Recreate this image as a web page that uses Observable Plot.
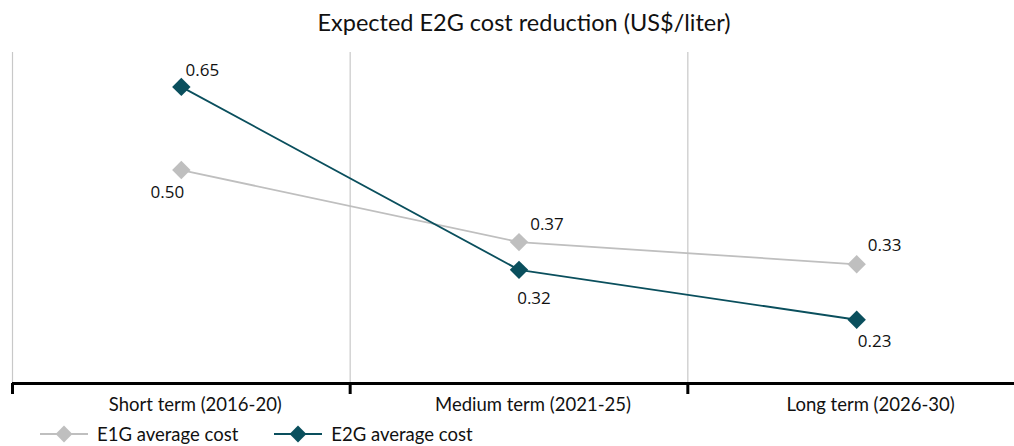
<!DOCTYPE html>
<html>
<head>
<meta charset="utf-8">
<script src="https://cdn.jsdelivr.net/npm/d3@7"></script>
<script src="https://cdn.jsdelivr.net/npm/@observablehq/plot@0.6"></script>
<style>
  html, body { margin: 0; padding: 0; background: #fff; }
  #wrap { position: relative; width: 1014px; height: 446px; overflow: hidden; font-family: Lato, "Open Sans", sans-serif; }
  #title { position: absolute; top: 0; left: 0; width: 1014px; height: 44px; line-height: 44px; text-align: center; font-size: 23.5px; color: #111; padding-left: 34px; box-sizing: border-box; }
  #chart { position: absolute; top: 45px; left: 0; }
  #legend { position: absolute; top: 423px; left: 40px; height: 22px; display: flex; align-items: center; font-size: 18.5px; color: #111; }
  .item { display: flex; align-items: center; }
  .item svg { margin-right: 9px; }
</style>
</head>
<body>
<div id="wrap">
  <div id="title">Expected E2G cost reduction (US$/liter)</div>
  <div id="chart"></div>
  <div id="legend"></div>
</div>
<script>
// ---- data ----
const categories = ["Short term (2016-20)", "Medium term (2021-25)", "Long term (2026-30)"];
const seriesNames = ["E1G average cost", "E2G average cost"];
const e1gValues = [0.50, 0.37, 0.33];
const e2gValues = [0.65, 0.32, 0.23];

// ---- styles ----
const colors = ["#bfbfbf", "#0a4f5d"];
const yDomain = [0.115, 0.712];
const boundaries = [-0.5, 0.5, 1.5];

const rows = [];
[e1gValues, e2gValues].forEach((vals, s) => {
  vals.forEach((v, i) => rows.push({i, category: categories[i], series: seriesNames[s], value: v}));
});

function label(s, i, dx, dy) {
  return Plot.text(rows.filter(d => d.series === seriesNames[s] && d.i === i), {
    x: "i", y: "value", text: d => d.value.toFixed(2), dx, dy,
    fontSize: 17, fill: "#111", fontFamily: "'Open Sans', sans-serif", lineAnchor: "middle"
  });
}

const chart = Plot.plot({
  width: 1014,
  height: 375,
  marginTop: 7,
  marginBottom: 37,
  marginLeft: 12,
  marginRight: 0,
  style: {fontFamily: "Lato, sans-serif", background: "transparent"},
  x: {type: "linear", domain: [-0.5, 2.5], range: [12, 1025], axis: null, label: null},
  y: {domain: yDomain, axis: null, label: null},
  color: {domain: seriesNames, range: colors},
  marks: [
    Plot.ruleX(boundaries, {stroke: "#c8c8c8", strokeWidth: 1.2}),
    Plot.ruleY([yDomain[0]], {stroke: "#000", strokeWidth: 3}),
    Plot.axisX(boundaries, {tickSize: 11, strokeWidth: 3, stroke: "#000", tickFormat: () => "", tickPadding: 0, label: null}),
    Plot.text(categories, {x: (d, i) => i, text: d => d, frameAnchor: "bottom", dy: 22, dx: 14, lineAnchor: "middle", fontSize: 18.5, fill: "#111", fontFamily: "Lato, sans-serif"}),
    Plot.line(rows, {x: "i", y: "value", stroke: "series", z: "series", strokeWidth: 1.8}),
    Plot.dot(rows, {x: "i", y: "value", fill: "series", symbol: "diamond2", r: 8.3}),
    label(1, 0, 21, -16),
    label(0, 0, -14, 23),
    label(0, 1, 28, -18),
    label(1, 1, 15, 29),
    label(0, 2, 28, -19),
    label(1, 2, 18, 22)
  ]
});
document.getElementById("chart").appendChild(chart);

// legend
const legend = d3.select("#legend");
seriesNames.forEach((name, s) => {
  const item = legend.append("div").attr("class", "item").style("margin-right", s === 0 ? "36px" : "0");
  const svg = item.append("svg").attr("width", 48).attr("height", 22);
  svg.append("line").attr("x1", 0).attr("x2", 48).attr("y1", 11).attr("y2", 11).attr("stroke", colors[s]).attr("stroke-width", 2);
  svg.append("path").attr("d", d3.symbol(d3.symbolDiamond2, 180)()).attr("transform", "translate(24,11)").attr("fill", colors[s]);
  item.append("span").text(name);
});
</script>
</body>
</html>
